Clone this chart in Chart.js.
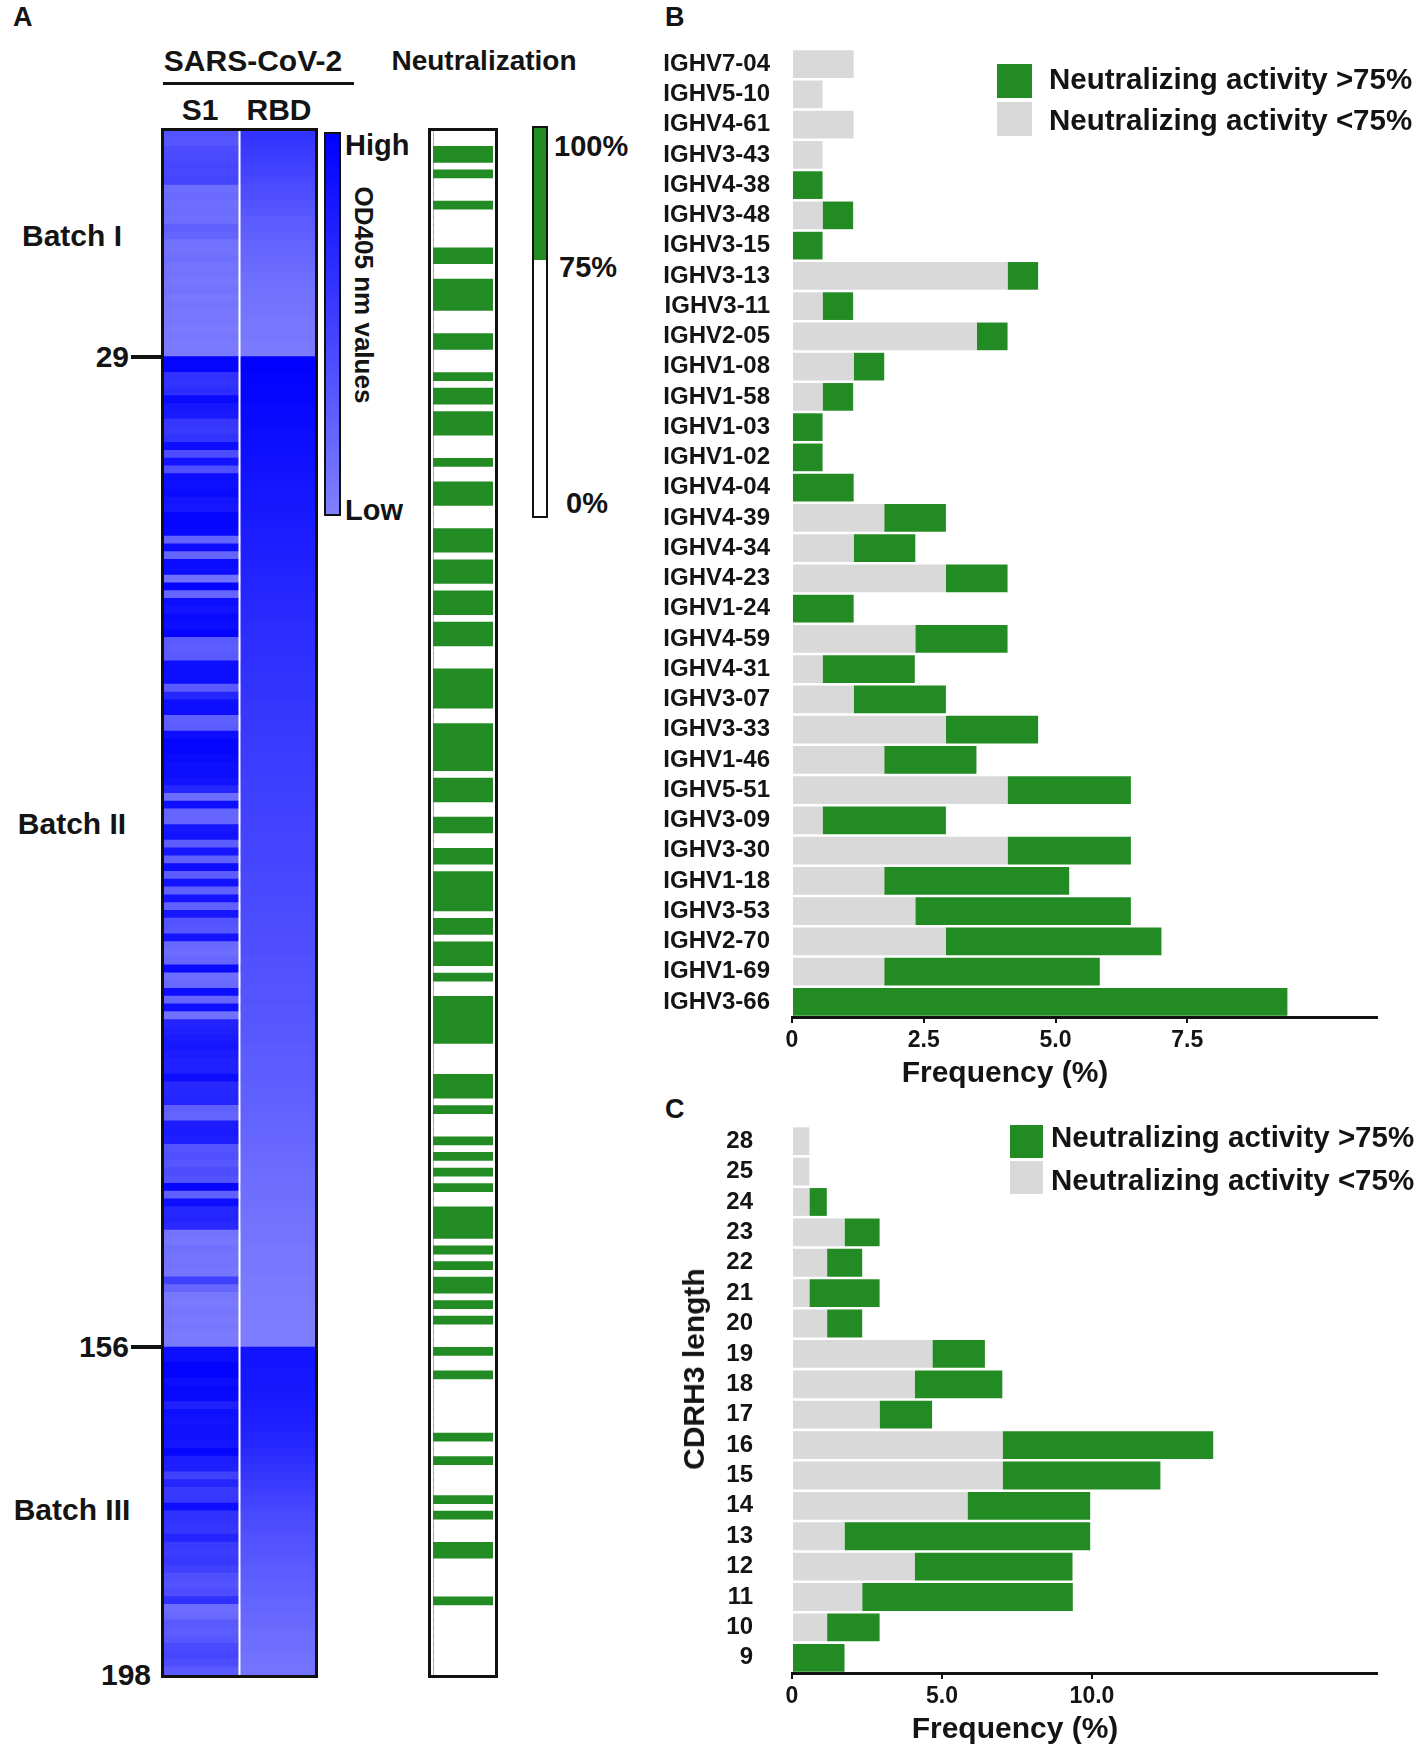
<!DOCTYPE html>
<html>
<head>
<meta charset="utf-8">
<script src="https://cdn.jsdelivr.net/npm/chart.js@4.4.1/dist/chart.umd.min.js"></script>
<style>
  body { margin: 0; background: #fff; }
  #page { position: relative; width: 1418px; height: 1747px; overflow: hidden;
          font-family: "Liberation Sans", Arial, sans-serif; font-weight: bold; color: #141414; }
  .t { position: absolute; white-space: nowrap; line-height: 1; }
  .c { transform: translate(-50%, -50%); }
  .l { transform: translateY(-50%); }
  .r { transform: translate(-100%, -50%); }
  .box { position: absolute; box-sizing: border-box; }
  .cv { position: absolute; }
  .sw { position: absolute; }
</style>
</head>
<body>
<div id="page">
  <div class="t" style="left:13px;top:4px;font-size:27px">A</div>
  <div class="t" style="left:665px;top:4px;font-size:27px">B</div>
  <div class="t" style="left:665px;top:1096px;font-size:27px">C</div>

  <div class="t c" style="left:253px;top:61px;font-size:30px">SARS-CoV-2</div>
  <div class="box" style="left:163px;top:82px;width:191px;height:3px;background:#141414"></div>
  <div class="t c" style="left:200px;top:110px;font-size:30px">S1</div>
  <div class="t c" style="left:279px;top:110px;font-size:30px">RBD</div>
  <div class="t c" style="left:484px;top:61px;font-size:28px">Neutralization</div>

  <div class="t c" style="left:72px;top:236px;font-size:30px">Batch I</div>
  <div class="t c" style="left:72px;top:824px;font-size:30px">Batch II</div>
  <div class="t c" style="left:72px;top:1510px;font-size:30px">Batch III</div>

  <!-- heatmap -->
  <div class="box" style="left:161px;top:128px;width:157px;height:1550px;border:3px solid #111"></div>
  <div class="cv" style="left:164px;top:131px;width:151px;height:1544px"><canvas id="heat"></canvas></div>

  <!-- OD colour key -->
  <div class="box" style="left:324px;top:132px;width:17px;height:384px;border:2.5px solid #111;background:linear-gradient(#0000ff,#8080ff)"></div>
  <div class="t l" style="left:345px;top:145px;font-size:29px">High</div>
  <div class="t l" style="left:345px;top:510px;font-size:29px">Low</div>
  <div class="t" style="left:364px;top:295px;font-size:26px;transform:translate(-50%,-50%) rotate(90deg)">OD405 nm values</div>

  <!-- neutralization column -->
  <div class="box" style="left:428px;top:128px;width:70px;height:1550px;border:3px solid #111"></div>
  <div class="cv" style="left:433px;top:131px;width:60px;height:1544px"><canvas id="neut"></canvas></div>

  <!-- neutralization key -->
  <div class="box" style="left:532px;top:126px;width:16px;height:392px;border:2.5px solid #111;background:linear-gradient(#228b22 0,#228b22 34%,#fff 34%)"></div>
  <div class="t l" style="left:554px;top:146px;font-size:29px">100%</div>
  <div class="t l" style="left:559px;top:267px;font-size:29px">75%</div>
  <div class="t l" style="left:566px;top:503px;font-size:29px">0%</div>

  <!-- panel B -->
  <div class="cv" style="left:580px;top:30px;width:810px;height:1080px"><canvas id="vgene"></canvas></div>
  <div class="sw" style="left:997px;top:64px;width:35px;height:34px;background:#238b23"></div>
  <div class="sw" style="left:997px;top:102px;width:35px;height:34px;background:#d9d9d9"></div>
  <div class="t l" style="left:1049px;top:79px;font-size:29.5px">Neutralizing activity &gt;75%</div>
  <div class="t l" style="left:1049px;top:120px;font-size:29.5px">Neutralizing activity &lt;75%</div>
  <div class="t c" style="left:1005px;top:1072px;font-size:30px">Frequency (%)</div>

  <!-- panel C -->
  <div class="cv" style="left:580px;top:1100px;width:810px;height:647px"><canvas id="cdr"></canvas></div>
  <div class="sw" style="left:1010px;top:1125px;width:33px;height:33px;background:#238b23"></div>
  <div class="sw" style="left:1010px;top:1161px;width:33px;height:33px;background:#d9d9d9"></div>
  <div class="t l" style="left:1051px;top:1137px;font-size:29.5px">Neutralizing activity &gt;75%</div>
  <div class="t l" style="left:1051px;top:1180px;font-size:29.5px">Neutralizing activity &lt;75%</div>
  <div class="t" style="left:694px;top:1369px;font-size:30px;transform:translate(-50%,-50%) rotate(-90deg)">CDRH3 length</div>
  <div class="t c" style="left:1015px;top:1728px;font-size:30px">Frequency (%)</div>
</div>

<script>
// ---- panel A: ELISA signal per clone (relative OD405, 0 = low, 1 = high) ----
const s1Signal = [
  0.35,0.33,0.4,0.42,0.45,0.44,0.46,0.15,0.18,0.13,0.16,0.14,0.25,0.22,0.12,0.1,0.14,0.09,0.11,0.08,
  0.1,0.07,0.09,0.06,0.08,0.05,0.07,0.04,0.05,
  0.97,0.95,0.62,0.6,0.65,0.92,0.82,0.8,0.58,0.55,0.6,0.9,0.4,0.85,0.38,0.9,0.88,0.92,0.85,0.82,
  0.97,0.95,0.93,0.22,0.9,0.22,0.92,0.9,0.12,0.97,0.2,0.9,0.85,0.92,0.88,0.95,0.3,0.28,0.3,0.88,
  0.9,0.88,0.3,0.7,0.88,0.9,0.25,0.28,0.9,0.97,0.95,0.92,0.88,0.9,0.85,0.7,0.15,0.88,0.22,0.2,
  0.82,0.85,0.28,0.82,0.25,0.9,0.28,0.85,0.25,0.85,0.25,
  0.82,0.35,0.32,0.85,0.18,0.15,0.2,0.92,0.15,0.18,0.9,0.2,0.88,0.12,0.72,0.75,0.8,0.82,0.78,0.74,
  0.76,0.9,0.68,0.7,0.72,0.25,0.22,0.78,0.8,0.76,0.35,0.38,0.32,0.4,0.36,0.95,0.25,0.9,0.7,0.72,
  0.68,0.1,0.08,0.12,0.09,0.1,0.08,0.5,0.2,0.06,0.05,0.08,0.05,0.06,0.04,0.05,
  0.88,0.9,0.98,0.97,0.9,0.94,0.92,0.75,0.88,0.85,0.87,0.86,0.84,0.95,0.78,0.75,0.5,0.7,0.55,0.58,
  0.9,0.62,0.6,0.58,0.72,0.55,0.52,0.56,0.5,0.38,0.35,0.4,0.62,0.15,0.18,0.3,0.28,0.32,0.42,0.45,
  0.4,0.3
];
const rbdSignal = [
  0.6,0.58,0.55,0.52,0.5,0.47,0.44,0.41,0.38,0.35,0.32,0.29,0.27,0.25,0.23,0.21,0.19,0.17,0.15,0.14,
  0.12,0.11,0.1,0.09,0.08,0.07,0.06,0.05,0.04,
  1.0,0.99,0.98,0.97,0.96,0.95,0.94,0.93,0.92,0.91,0.9,0.89,0.88,0.87,0.86,0.85,0.84,0.83,0.82,0.81,
  0.8,0.79,0.78,0.77,0.76,0.75,0.74,0.73,0.72,0.71,0.7,0.69,0.68,0.67,0.66,0.65,0.64,0.63,0.63,0.62,
  0.61,0.6,0.6,0.59,0.58,0.57,0.57,0.56,0.55,0.55,0.54,0.53,0.53,0.52,0.51,0.51,0.5,0.5,0.49,0.48,
  0.48,0.47,0.47,0.46,0.46,0.45,0.44,0.44,0.43,0.43,0.42,0.41,0.41,0.4,0.39,0.39,0.38,0.37,0.37,0.36,
  0.35,0.35,0.34,0.33,0.33,0.32,0.31,0.31,0.3,0.29,0.28,0.28,0.27,0.26,0.25,0.24,0.24,0.23,0.22,0.21,
  0.2,0.19,0.18,0.17,0.16,0.15,0.14,0.14,0.13,0.12,0.11,0.1,0.1,0.09,0.08,0.07,0.07,0.06,0.05,0.05,
  0.04,0.04,0.03,0.03,0.02,0.02,0.02,
  0.86,0.85,0.84,0.83,0.82,0.81,0.8,0.79,0.78,0.76,0.74,0.72,0.7,0.67,0.64,0.61,0.58,0.55,0.52,0.49,
  0.46,0.43,0.41,0.39,0.37,0.35,0.33,0.31,0.29,0.27,0.25,0.24,0.22,0.21,0.19,0.18,0.16,0.15,0.13,0.12,
  0.11,0.1
];
// clones (1-based) with >75% neutralization
const neutralizingClones = [
  3,4,6,10,16,17,20,21,22,23,27,28,32,34,35,37,38,39,43,46,47,48,52,53,54,56,57,58,60,61,62,64,65,66,
  70,71,72,73,74,77,78,79,80,81,82,84,85,86,89,90,93,94,96,97,98,99,100,102,103,105,106,107,109,
  112,113,114,115,116,117,122,123,124,126,130,132,134,136,139,140,141,142,144,146,148,149,151,153,
  157,160,168,171,176,178,182,183,189
];
const batchBreaks = [29, 156, 198];

// ---- panel B: IGHV usage (%) ----
const vGenes = ['IGHV7-04','IGHV5-10','IGHV4-61','IGHV3-43','IGHV4-38','IGHV3-48','IGHV3-15','IGHV3-13',
  'IGHV3-11','IGHV2-05','IGHV1-08','IGHV1-58','IGHV1-03','IGHV1-02','IGHV4-04','IGHV4-39','IGHV4-34',
  'IGHV4-23','IGHV1-24','IGHV4-59','IGHV4-31','IGHV3-07','IGHV3-33','IGHV1-46','IGHV5-51','IGHV3-09',
  'IGHV3-30','IGHV1-18','IGHV3-53','IGHV2-70','IGHV1-69','IGHV3-66'];
const vGeneLow  = [1.17,0.58,1.17,0.58,0,0.58,0,4.09,0.58,3.51,1.17,0.58,0,0,0,1.75,1.17,2.92,0,2.34,
  0.58,1.17,2.92,1.75,4.09,0.58,4.09,1.75,2.34,2.92,1.75,0];
const vGeneHigh = [0,0,0,0,0.58,0.58,0.58,0.58,0.58,0.58,0.58,0.58,0.58,0.58,1.17,1.17,1.17,1.17,1.17,
  1.75,1.75,1.75,1.75,1.75,2.34,2.34,2.34,3.51,4.09,4.09,4.09,9.4];
const vGeneTicks = [0, 2.5, 5.0, 7.5];

// ---- panel C: CDRH3 length (%) ----
const cdrLengths = ['28','25','24','23','22','21','20','19','18','17','16','15','14','13','12','11','10','9'];
const cdrLow  = [0.58,0.58,0.58,1.75,1.17,0.58,1.17,4.68,4.09,2.92,7.02,7.02,5.85,1.75,4.09,2.34,1.17,0];
const cdrHigh = [0,0,0.58,1.17,1.17,2.34,1.17,1.75,2.92,1.75,7.02,5.26,4.09,8.19,5.26,7.02,1.75,1.75];
const cdrTicks = [0, 5.0, 10.0];

const FONT = '"Liberation Sans", Arial, sans-serif';
const GREEN = '#238b23', GREY = '#d9d9d9', INK = '#141414';

function odColor(v) {
  const c = Math.round(128 * (1 - v));
  return 'rgb(' + c + ',' + c + ',255)';
}

const rowLabels = s1Signal.map((_, i) => String(i + 1));

const columnDivider = {
  id: 'columnDivider',
  afterDatasetsDraw(chart) {
    const {ctx, chartArea: a, scales: {x}} = chart;
    const px = x.getPixelForValue(1);
    ctx.save();
    ctx.strokeStyle = '#fff';
    ctx.lineWidth = 2;
    ctx.beginPath(); ctx.moveTo(px, a.top); ctx.lineTo(px, a.bottom); ctx.stroke();
    ctx.restore();
  }
};

const heat = new Chart(document.getElementById('heat'), {
  type: 'bar',
  data: {
    labels: rowLabels,
    datasets: [
      { label: 'S1', data: s1Signal.map(() => 1), backgroundColor: s1Signal.map(odColor) },
      { label: 'RBD', data: rbdSignal.map(() => 1), backgroundColor: rbdSignal.map(odColor) }
    ]
  },
  options: {
    indexAxis: 'y', responsive: true, maintainAspectRatio: false, animation: false,
    datasets: { bar: { barPercentage: 1, categoryPercentage: 1, borderWidth: 0, inflateAmount: 0.8 } },
    plugins: { legend: { display: false }, tooltip: { enabled: false } },
    scales: {
      x: { display: false, stacked: true, min: 0, max: 2 },
      y: { display: false, stacked: true }
    }
  },
  plugins: [columnDivider]
});

new Chart(document.getElementById('neut'), {
  type: 'bar',
  data: {
    labels: rowLabels,
    datasets: [{
      label: 'Neutralization >75%',
      data: rowLabels.map((_, i) => neutralizingClones.includes(i + 1) ? 1 : 0),
      backgroundColor: GREEN
    }]
  },
  options: {
    indexAxis: 'y', responsive: true, maintainAspectRatio: false, animation: false,
    datasets: { bar: { barPercentage: 1, categoryPercentage: 1, borderWidth: 0, inflateAmount: 0.5 } },
    plugins: { legend: { display: false }, tooltip: { enabled: false } },
    scales: { x: { display: false, min: 0, max: 1 }, y: { display: false } }
  }
});

// batch break ticks and numbers, placed from the heatmap's own row scale
(function () {
  const page = document.getElementById('page');
  const area = heat.chartArea;
  const rowH = (area.bottom - area.top) / rowLabels.length;
  batchBreaks.forEach((b, k) => {
    const y = 131 + area.top + b * rowH;
    const last = k === batchBreaks.length - 1;
    if (!last) {
      const tick = document.createElement('div');
      tick.className = 'box';
      tick.style.cssText = 'left:131px;width:32px;height:4px;background:#111;top:' + (y - 2) + 'px';
      page.appendChild(tick);
    }
    const lab = document.createElement('div');
    lab.className = 't ' + (last ? 'c' : 'r');
    lab.style.cssText = 'font-size:30px;top:' + y + 'px;left:' + (last ? 126 : 129) + 'px';
    lab.textContent = String(b);
    page.appendChild(lab);
  });
})();

function freqChart(id, labels, low, high, cfg) {
  return new Chart(document.getElementById(id), {
    type: 'bar',
    data: {
      labels: labels,
      datasets: [
        { label: 'Neutralizing activity <75%', data: low, backgroundColor: GREY },
        { label: 'Neutralizing activity >75%', data: high, backgroundColor: GREEN }
      ]
    },
    options: {
      indexAxis: 'y', responsive: true, maintainAspectRatio: false, animation: false,
      layout: { padding: { top: cfg.padTop, right: 13, left: 0, bottom: 0 } },
      datasets: { bar: { barPercentage: 0.915, categoryPercentage: 1, borderWidth: 0 } },
      plugins: { legend: { display: false }, tooltip: { enabled: false } },
      scales: {
        x: {
          stacked: true, min: 0, max: cfg.max,
          border: { display: true, color: '#111', width: 3 },
          grid: { display: true, drawOnChartArea: false, drawTicks: true, tickLength: 6, color: '#111', lineWidth: 2 },
          ticks: {
            padding: 4, color: INK,
            font: { family: FONT, size: 23, weight: 'bold' },
            callback: v => v === 0 ? '0' : v.toFixed(1)
          },
          afterBuildTicks: s => { s.ticks = cfg.ticks.map(v => ({ value: v })); },
          afterFit: s => { s.height = cfg.xHeight; }
        },
        y: {
          stacked: true,
          grid: { display: false },
          border: { display: false },
          ticks: { autoSkip: false, padding: cfg.labelPad, color: INK, font: { family: FONT, size: 24, weight: 'bold' } },
          afterFit: s => { s.width = cfg.yWidth; s.paddingTop = 0; s.paddingBottom = 0; }
        }
      }
    }
  });
}

freqChart('vgene', vGenes, vGeneLow, vGeneHigh,
  { padTop: 19, max: 11.1, ticks: vGeneTicks, xHeight: 93, yWidth: 212, labelPad: 14 });
freqChart('cdr', cdrLengths, cdrLow, cdrHigh,
  { padTop: 26, max: 19.5, ticks: cdrTicks, xHeight: 74, yWidth: 212, labelPad: 31 });
</script>
</body>
</html>
